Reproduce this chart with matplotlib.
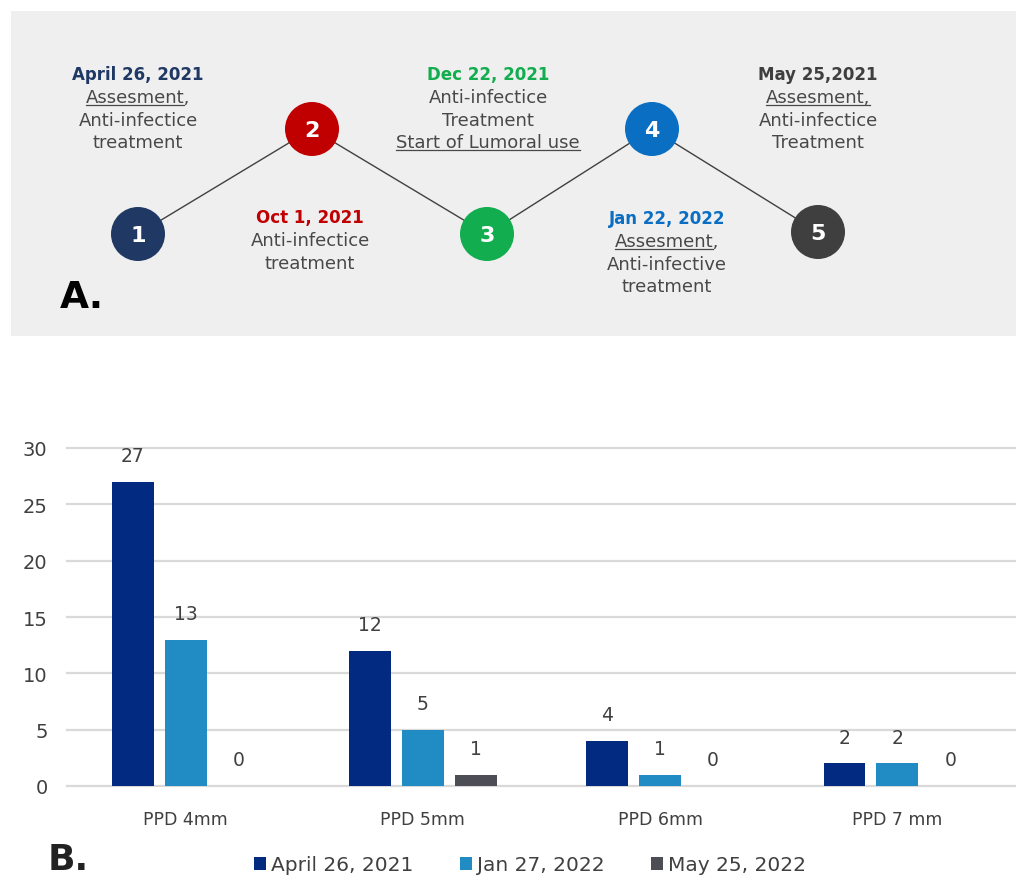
import matplotlib
matplotlib.use("Agg")
import matplotlib.pyplot as plt
from matplotlib.patches import Circle, Rectangle
from matplotlib.lines import Line2D
import numpy as np

# ---------------- data ----------------
categories = ["PPD 4mm", "PPD 5mm", "PPD 6mm", "PPD 7 mm"]
series_names = ["April 26, 2021", "Jan 27, 2022", "May 25, 2022"]
april_2021 = [27, 12, 4, 2]
jan_2022 = [13, 5, 1, 2]
may_2022 = [0, 1, 0, 0]
series_colors = ["#012a80", "#218cc4", "#4d4e55"]
y_ticks = [0, 5, 10, 15, 20, 25, 30]

event_numbers = ["1", "2", "3", "4", "5"]
event_dates = ["April 26, 2021", "Oct 1, 2021", "Dec 22, 2021", "Jan 22, 2022", "May 25,2021"]
event_colors = ["#1f3864", "#c00000", "#12ad4e", "#0a6fc2", "#3f3f3f"]
# each line: (text, underlined part)
event_lines = [
    [("Assesment,", "Assesment"), ("Anti-infectice", ""), ("treatment", "")],
    [("Anti-infectice", ""), ("treatment", "")],
    [("Anti-infectice", ""), ("Treatment", ""), ("Start of Lumoral use", "Start of Lumoral use")],
    [("Assesment,", "Assesment"), ("Anti-infective", ""), ("treatment", "")],
    [("Assesment,", "Assesment,"), ("Anti-infectice", ""), ("Treatment", "")],
]

# ---------------- figure ----------------
W, H = 1016, 879
fig = plt.figure(figsize=(W / 100, H / 100), dpi=100)
fig.patch.set_facecolor("white")
FONT = "DejaVu Sans"

# ---- Panel A: timeline ----
axA = fig.add_axes([0, 1 - 340 / H, 1, 340 / H])
axA.set_xlim(0, W)
axA.set_ylim(340, 0)
axA.axis("off")
axA.add_patch(Rectangle((11, 12), W - 11, 325, facecolor="#efefef", edgecolor="none", zorder=0))

node_x = [138, 312, 487, 652, 818]
node_y = [235, 130, 235, 130, 233]
axA.plot(node_x, node_y, color="#404040", lw=1.0, zorder=1)
for i in range(5):
    axA.add_patch(Circle((node_x[i], node_y[i]), 27, facecolor=event_colors[i],
                         edgecolor="none", zorder=2))
    axA.text(node_x[i], node_y[i] + 1, event_numbers[i], color="white", fontsize=16,
             fontweight="bold", ha="center", va="center", family=FONT, zorder=3)

label_x = [138, 310, 488, 667, 818]
label_y = [75, 218, 75, 219, 75]
line_gap = 22.8
underline_jobs = []
for i in range(5):
    axA.text(label_x[i], label_y[i], event_dates[i], color=event_colors[i], fontsize=12,
             fontweight="bold", ha="center", va="center", family=FONT)
    for j, (txt, ul) in enumerate(event_lines[i]):
        y = label_y[i] + line_gap * (j + 1)
        t = axA.text(label_x[i], y, txt, color="#484848", fontsize=13,
                     ha="center", va="center", family=FONT)
        if ul:
            underline_jobs.append((t, ul))

axA.text(60, 298, "A.", fontsize=27, fontweight="bold", color="black",
         ha="left", va="center", family=FONT)

# ---- Panel B: bar chart ----
axB = fig.add_axes([67 / W, 1 - 787 / H, 1 - 67 / W, (787 - 449) / H])
x = np.arange(len(categories))
bw = 0.176
step = 0.223
all_series = [april_2021, jan_2022, may_2022]
for k, vals in enumerate(all_series):
    pos = x + (k - 1) * step
    axB.bar(pos, vals, width=bw, color=series_colors[k], label=series_names[k], zorder=3)
    for p, v in zip(pos, vals):
        axB.annotate(str(v), (p, v), xytext=(0, 19), textcoords="offset points",
                     ha="center", va="center", fontsize=13.5, color="#404040", family=FONT)

axB.set_xlim(-0.5, 3.5)
axB.set_ylim(0, 30)
axB.set_yticks(y_ticks)
axB.set_xticks(x)
axB.set_xticklabels(categories)
for s in axB.spines.values():
    s.set_visible(False)
axB.tick_params(axis="both", length=0, colors="#404040", labelsize=14)
axB.tick_params(axis="y", pad=14)
axB.tick_params(axis="x", pad=17, labelsize=12.5)
for lab in axB.get_xticklabels() + axB.get_yticklabels():
    lab.set_family(FONT)
axB.yaxis.grid(True, color="#d9d9d9", lw=1.6, zorder=0)
for gl in axB.yaxis.get_gridlines():
    gl.set_clip_on(False)
axB.set_axisbelow(True)
axB.set_facecolor("none")

leg = fig.legend(loc="center", bbox_to_anchor=(530 / W, 1 - 866 / H), ncol=3, frameon=False,
                 handlelength=0.6, handleheight=0.6, handletextpad=0.25, columnspacing=2.3,
                 prop={"family": FONT, "size": 14.5})
for t in leg.get_texts():
    t.set_color("#404040")

fig.text(48 / W, 1 - 860 / H, "B.", fontsize=26, fontweight="bold", color="#222222",
         ha="left", va="center", family=FONT)

# ---- underlines (computed from rendered text extents) ----
fig.canvas.draw()
renderer = fig.canvas.get_renderer()
inv = fig.transFigure.inverted()
for t, ul in underline_jobs:
    bb = t.get_window_extent(renderer)
    tmp = fig.text(0, 0, ul, fontsize=t.get_fontsize(), family=FONT)
    wb = tmp.get_window_extent(renderer)
    tmp.remove()
    x0 = bb.x0
    x1 = bb.x0 + wb.width
    yline = bb.y0 + 1
    (fx0, fy), (fx1, _) = inv.transform([(x0, yline), (x1, yline)])
    fig.add_artist(Line2D([fx0, fx1], [fy, fy], color="#484848", lw=0.9,
                          transform=fig.transFigure))

fig.savefig("out.png", dpi=100)
